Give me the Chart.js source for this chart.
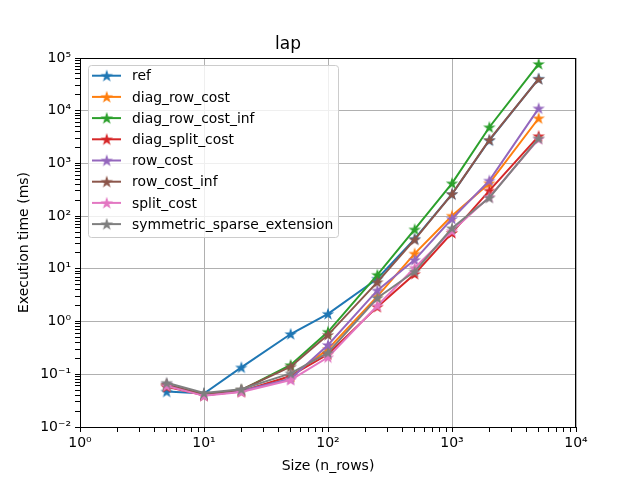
<!DOCTYPE html>
<html lang="en">
<head>
    <meta charset="UTF-8">
    <title>lap</title>
    <script src="https://cdn.jsdelivr.net/npm/chart.js"></script>
    <style>
        html, body { margin: 0; padding: 0; background: #fff; }
        .chart-container { width: 640px; height: 480px; }
    </style>
</head>
<body>
    <div class="chart-container">
        <canvas id="lapChart"></canvas>
    </div>

    <script>
        // problem sizes (n_rows)
        const sizes = [5, 10, 20, 50, 100, 250, 500, 1000, 2000, 5000];

        // execution time in ms
        const ref = [0.047, 0.043, 0.135, 0.58, 1.4, 6.5, 37, 262, 2750, 40500];
        const diagRowCost = [0.062, 0.040, 0.048, 0.090, 0.30, 3.0, 19.5, 102, 420, 7200];
        const diagRowCostInf = [0.060, 0.041, 0.050, 0.150, 0.64, 7.7, 56, 420, 4860, 77000];
        const diagSplitCost = [0.058, 0.040, 0.047, 0.093, 0.24, 1.9, 8.0, 48, 305, 3300];
        const rowCost = [0.065, 0.040, 0.048, 0.082, 0.36, 3.9, 14.8, 89, 472, 11100];
        const rowCostInf = [0.063, 0.042, 0.051, 0.139, 0.56, 5.6, 36, 262, 2790, 40000];
        const splitCost = [0.060, 0.039, 0.046, 0.078, 0.21, 2.0, 10.5, 52, 230, 2900];
        const symSparseExt = [0.069, 0.044, 0.052, 0.104, 0.257, 2.8, 8.9, 59, 224, 3000];

        const seriesNames = ['ref', 'diag_row_cost', 'diag_row_cost_inf', 'diag_split_cost',
            'row_cost', 'row_cost_inf', 'split_cost', 'symmetric_sparse_extension'];
        const seriesValues = [ref, diagRowCost, diagRowCostInf, diagSplitCost,
            rowCost, rowCostInf, splitCost, symSparseExt];
        const colors = ['#1f77b4', '#ff7f0e', '#2ca02c', '#d62728',
            '#9467bd', '#8c564b', '#e377c2', '#7f7f7f'];

        const FONT = '"DejaVu Sans", sans-serif';

        // filled 5-point star like matplotlib's '*' marker
        function starPath(ctx, cx, cy, r) {
            const inner = r * 0.381966;
            ctx.beginPath();
            for (let i = 0; i < 10; i++) {
                const rad = i % 2 === 0 ? r : inner;
                const a = -Math.PI / 2 + i * Math.PI / 5;
                const px = cx + rad * Math.cos(a), py = cy + rad * Math.sin(a);
                if (i === 0) ctx.moveTo(px, py); else ctx.lineTo(px, py);
            }
            ctx.closePath();
        }

        function starImage(color) {
            const c = document.createElement('canvas');
            c.width = 14; c.height = 14;
            const g = c.getContext('2d');
            starPath(g, 7, 7.4, 4.6);
            g.fillStyle = color;
            g.fill();
            g.lineWidth = 1.2;
            g.strokeStyle = color;
            g.lineJoin = 'miter';
            g.stroke();
            return c;
        }
        const markers = colors.map(starImage);

        function logTicks(lo, hi) {
            const t = [];
            for (let e = lo; e < hi; e++) {
                for (let m = 1; m < 10; m++) t.push({ value: m * Math.pow(10, e) });
            }
            t.push({ value: Math.pow(10, hi) });
            return t;
        }
        function isMajor(v) {
            const l = Math.log10(v);
            return Math.abs(l - Math.round(l)) < 1e-9;
        }
        const sup = { '-': '\u207B', '0': '\u2070', '1': '\u00B9', '2': '\u00B2', '3': '\u00B3',
            '4': '\u2074', '5': '\u2075', '6': '\u2076', '7': '\u2077', '8': '\u2078', '9': '\u2079' };
        function powLabel(v) {
            if (!isMajor(v)) return '';
            const e = String(Math.round(Math.log10(v)));
            return '10' + e.split('').map(ch => sup[ch]).join('');
        }

        const datasets = seriesNames.map((name, i) => ({
            label: name,
            data: sizes.map((s, j) => ({ x: s, y: seriesValues[i][j] })),
            borderColor: colors[i],
            backgroundColor: colors[i],
            borderWidth: 2,
            tension: 0,
            pointStyle: markers[i],
            pointRadius: 5,
            order: -i
        }));

        // top and right spines
        const framePlugin = {
            id: 'frame',
            afterDatasetsDraw(chart) {
                const { ctx, chartArea: a } = chart;
                ctx.save();
                ctx.strokeStyle = '#000';
                ctx.lineWidth = 1;
                ctx.strokeRect(a.left + 0.5, a.top + 0.5, a.right - a.left - 1, a.bottom - a.top);
                ctx.restore();
            }
        };

        // matplotlib style legend in the upper left corner
        const legendPlugin = {
            id: 'mplLegend',
            afterDraw(chart) {
                const { ctx } = chart;
                const x0 = 88, y0 = 65, w = 250, h = 172, r = 3;
                ctx.save();
                ctx.beginPath();
                ctx.roundRect(x0 + 0.5, y0 + 0.5, w, h, r);
                ctx.fillStyle = 'rgba(255,255,255,0.8)';
                ctx.fill();
                ctx.strokeStyle = '#cccccc';
                ctx.lineWidth = 1;
                ctx.stroke();
                ctx.font = '13.9px ' + FONT;
                ctx.textBaseline = 'middle';
                seriesNames.forEach((name, i) => {
                    const y = 75.7 + i * 21.2;
                    ctx.strokeStyle = colors[i];
                    ctx.lineWidth = 2;
                    ctx.beginPath();
                    ctx.moveTo(92, y);
                    ctx.lineTo(121, y);
                    ctx.stroke();
                    ctx.drawImage(markers[i], 106.7 - 7, y - 7);
                    ctx.fillStyle = '#000';
                    ctx.fillText(name, 132, y + 1);
                });
                ctx.restore();
            }
        };

        const gridColor = c => (c.tick && isMajor(c.tick.value)) ? '#b0b0b0' : 'rgba(0,0,0,0)';

        new Chart(document.getElementById('lapChart'), {
            type: 'line',
            data: { datasets: datasets },
            options: {
                responsive: true,
                maintainAspectRatio: false,
                animation: false,
                layout: { padding: { left: 0, right: 64, top: 0, bottom: 0 } },
                plugins: {
                    legend: { display: false },
                    tooltip: { enabled: false },
                    title: {
                        display: true,
                        text: 'lap',
                        color: '#000',
                        font: { family: FONT, size: 17, weight: 'normal', lineHeight: '20px' },
                        padding: { top: 35, bottom: 3 }
                    }
                },
                scales: {
                    x: {
                        type: 'logarithmic',
                        position: 'bottom',
                        min: 1,
                        max: 10000,
                        afterBuildTicks: s => { s.ticks = logTicks(0, 4); },
                        afterFit: s => { s.height = 53; },
                        ticks: {
                            autoSkip: false,
                            maxRotation: 0,
                            padding: 3,
                            color: '#000',
                            font: { family: FONT, size: 14 },
                            callback: v => powLabel(v)
                        },
                        grid: { color: gridColor, tickColor: '#000', tickLength: 5, lineWidth: 1 },
                        border: { display: true, color: '#000', width: 1 },
                        title: {
                            display: true,
                            text: 'Size (n_rows)',
                            color: '#000',
                            font: { family: FONT, size: 14 },
                            padding: { top: 0, bottom: 5 }
                        }
                    },
                    y: {
                        type: 'logarithmic',
                        position: 'left',
                        min: 0.01,
                        max: 100000,
                        afterBuildTicks: s => { s.ticks = logTicks(-2, 5); },
                        afterFit: s => { s.width = 80; },
                        ticks: {
                            autoSkip: false,
                            padding: 4,
                            color: '#000',
                            font: { family: FONT, size: 14 },
                            callback: v => powLabel(v)
                        },
                        grid: { color: gridColor, tickColor: '#000', tickLength: 5, lineWidth: 1 },
                        border: { display: true, color: '#000', width: 1 },
                        title: {
                            display: true,
                            text: 'Execution time (ms)',
                            color: '#000',
                            font: { family: FONT, size: 14 },
                            padding: { top: 16, bottom: 0 }
                        }
                    }
                }
            },
            plugins: [framePlugin, legendPlugin]
        });
    </script>
</body>
</html>
